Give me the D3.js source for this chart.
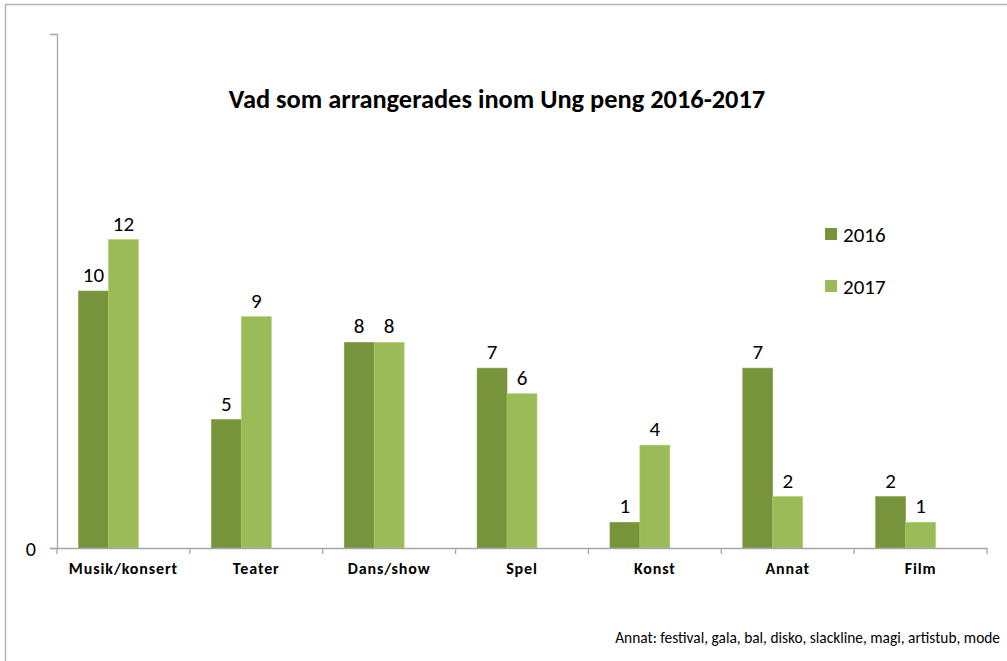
<!DOCTYPE html>
<html>
<head>
<meta charset="utf-8">
<script src="https://cdn.jsdelivr.net/npm/d3@7"></script>
<style>
  body { margin: 0; background: #fff; }
  svg text { font-family: Carlito, Lato, "Open Sans", sans-serif; fill: #000; }
</style>
</head>
<body>
<div id="chart"></div>
<script>
var categories = ["Musik/konsert", "Teater", "Dans/show", "Spel", "Konst", "Annat", "Film"];
var seriesNames = ["2016", "2017"];
var values2016 = [10, 5, 8, 7, 1, 7, 2];
var values2017 = [12, 9, 8, 6, 4, 2, 1];
var yTicks = [0];
var title = "Vad som arrangerades inom Ung peng 2016-2017";
var footNote = "Annat: festival, gala, bal, disko, slackline, magi, artistub, mode";

var colors = { "2016": "#77933c", "2017": "#9bbb59" };

(function () {
  'use strict'

  var W = 1007, H = 661;
  var margin = { top: 34, right: 20, bottom: 113, left: 57 },
      width = 987 - margin.left,
      height = 548 - margin.top;

  var svg = d3.select("#chart").append("svg")
      .attr("width", W)
      .attr("height", H);

  // outer chart border (only top and left visible)
  svg.append("path")
      .attr("d", "M5.5," + H + "V4.5H" + W)
      .attr("fill", "none")
      .attr("stroke", "#b4b4b4")
      .attr("stroke-width", 1.5);

  var g = svg.append("g")
      .attr("transform", "translate(" + margin.left + "," + margin.top + ")");

  var data = categories.map(function (c, i) {
    return { label: c, vals: [
      { key: "2016", v: values2016[i] },
      { key: "2017", v: values2017[i] }
    ] };
  });

  var x0 = d3.scaleBand().domain(categories).range([0, width]).padding(0);
  // Excel leaves room for a third (empty) slot in every group
  var x1 = d3.scaleBand().domain(seriesNames.concat(["_"]))
      .range([x0.bandwidth() * 0.162, x0.bandwidth() * 0.838]).padding(0);
  var y = d3.scaleLinear().domain([0, 20]).range([height, 0]);

  var groups = g.selectAll(".grp")
      .data(data)
      .enter().append("g")
      .attr("class", "grp")
      .attr("transform", function (d) { return "translate(" + x0(d.label) + ",0)"; });

  groups.selectAll("rect")
      .data(function (d) { return d.vals; })
      .enter().append("rect")
      .attr("x", function (d) { return x1(d.key); })
      .attr("y", function (d) { return y(d.v); })
      .attr("width", x1.bandwidth())
      .attr("height", function (d) { return height - y(d.v); })
      .attr("fill", function (d) { return colors[d.key]; })
      .attr("stroke", function (d) { return d3.color(colors[d.key]).brighter(0.3); })
      .attr("stroke-width", 0.6);

  groups.selectAll(".val")
      .data(function (d) { return d.vals; })
      .enter().append("text")
      .attr("class", "val")
      .attr("x", function (d) { return x1(d.key) + x1.bandwidth() / 2; })
      .attr("y", function (d) { return y(d.v) - 9; })
      .attr("text-anchor", "middle")
      .style("font-size", "21px")
      .text(function (d) { return d.v; });

  // y axis
  var yAxis = g.append("g")
      .call(d3.axisLeft(y).tickValues(yTicks).tickSize(7).tickPadding(14));
  yAxis.select(".domain").attr("stroke", "#a6a6a6").attr("stroke-width", 1.3);
  yAxis.selectAll(".tick line").attr("stroke", "#a6a6a6").attr("stroke-width", 1.3);
  yAxis.selectAll(".tick text").style("font-size", "20px").attr("dy", "0.35em");

  // x axis
  var xAxis = g.append("g")
      .attr("transform", "translate(0," + height + ")")
      .call(d3.axisBottom(x0).tickSize(0).tickPadding(15));
  xAxis.select(".domain").attr("stroke", "#a6a6a6").attr("stroke-width", 1.3);
  xAxis.selectAll(".tick text")
      .style("font-size", "16px")
      .style("font-weight", "bold")
      .style("letter-spacing", "0.9px");
  xAxis.selectAll(".sep")
      .data(d3.range(categories.length + 1))
      .enter().append("line")
      .attr("class", "sep")
      .attr("x1", function (i) { return i * x0.step(); })
      .attr("x2", function (i) { return i * x0.step(); })
      .attr("y1", 0).attr("y2", 6)
      .attr("stroke", "#a6a6a6")
      .attr("stroke-width", 1.3);

  // title
  svg.append("text")
      .attr("x", 497)
      .attr("y", 108)
      .attr("text-anchor", "middle")
      .style("font-size", "26.4px")
      .style("font-weight", "bold")
      .text(title);

  // legend
  var legend = svg.append("g").attr("transform", "translate(825,228)");
  var li = legend.selectAll("g")
      .data(seriesNames)
      .enter().append("g")
      .attr("transform", function (d, i) { return "translate(0," + (i * 52) + ")"; });
  li.append("rect")
      .attr("width", 12).attr("height", 12)
      .attr("fill", function (d) { return colors[d]; });
  li.append("text")
      .attr("x", 18).attr("y", 14)
      .style("font-size", "21px")
      .text(function (d) { return d; });

  // foot note
  svg.append("text")
      .attr("x", 1000)
      .attr("y", 643)
      .attr("text-anchor", "end")
      .style("font-size", "15.4px")
      .text(footNote);
})()
</script>
</body>
</html>
